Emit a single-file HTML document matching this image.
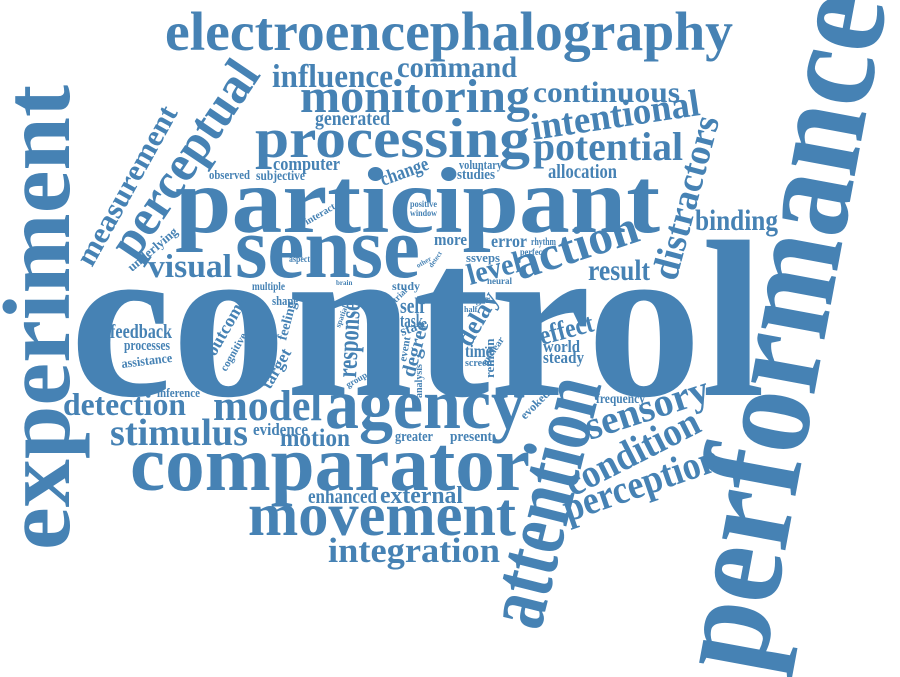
<!DOCTYPE html>
<html><head><meta charset="utf-8"><style>
html,body{margin:0;padding:0;background:#fff;}
svg{display:block;}
text{font-family:"Liberation Serif",serif;font-weight:bold;fill:#4682b4;}
</style></head><body>
<svg id="cloud" width="900" height="677" viewBox="0 0 900 677" xmlns="http://www.w3.org/2000/svg"></svg>
<script>
// word, x, y (baseline start), font size, rotation deg, textLength (0 = natural)
const words = [
["control",70,395,224,0,695],
["performance",762,676,140,-79.5,685],
["experiment",69,550,95,-90,465],
["participant",175,232,93,0,485],
["sense",235,277,88,0,185],
["attention",540,632,87,-76,255],
["comparator",130,490,78,0,400],
["agency",325,428,72,0,200],
["movement",248,535,61,0,268],
["electroencephalography",165,50,55,0,568],
["processing",255,157,56,0,275],
["monitoring",300,112,48,0,230],
["perceptual",135,262,52,-56,226],
["measurement",92,268,30,-61,178],
["distractors",676,282,38,-75,168],
["action",520,280,48,-18,128],
["sensory",590,440,40,-18,128],
["condition",573,497,40,-27,146],
["perception",568,522,40,-19,163],
["integration",328,562,35,0,172],
["potential",533,160,40,0,150],
["intentional",533,140,38,-8.5,170],
["continuous",533,102,30,0,147],
["influence",272,87,33,0,121],
["command",397,77,30,0,120],
["binding",695,230,30,0,83],
["result",588,280,30,0,62],
["visual",148,277,33,0,84],
["detection",63,415,32,0,123],
["model",213,420,43,0,109],
["stimulus",110,445,38,0,138],
["motion",280,446,25,0,70],
["external",380,503,24,0,83],
["enhanced",308,503,20,0,69],
["level",470,285,30,-15,55],
["delay",470,348,26,-60,58],
["effect",542,345,27,-15,55],
["generated",315,125,20,0,75],
["computer",273,170,19,0,67],
["allocation",548,178,20,0,69],
["change",383,186,20,-20,50],
["feedback",110,338,20,0,62],
["processes",124,350,15,0,46],
["assistance",122,368,13,-7,51],
["outcome",215,357,18,-60,0],
["cognitive",226,372,11,-60,0],
["feeling",286,341,14,-75,0],
["response",356,378,28,-87,76],
["target",270,390,17,-60,0],
["degree",414,378,20,-75,0],
["event",406,362,11,-80,0],
["state",402,336,14,-20,0],
["analysis",422,398,10,-90,0],
["self",400,313,22,0,25],
["task",400,327,19,0,23],
["study",392,290,12,0,0],
["multiple",252,290,12,0,33],
["shape",272,305,13,0,26],
["observed",209,179,13,0,41],
["subjective",256,180,14,0,49],
["voluntary",459,169,13,0,43],
["studies",457,179,15,0,38],
["positive",410,207,9.5,0,27],
["window",410,216,9.5,0,27],
["interact",307,225,10,-30,0],
["underlying",132,272,13,-40,0],
["aspect",289,262,9,0,21],
["more",434,245,17,0,33],
["error",491,247,18,0,36],
["rhythm",531,245,10,0,25],
["ssveps",466,262,13,0,34],
["perfect",520,255,9,0,25],
["neural",487,284,9,0,0],
["finger",464,303,12,0,26],
["half",464,312,8,0,0],
["unclear",486,366,10,-55,0],
["time",465,357,18,0,27],
["screen",465,366,10,0,0],
["remain",494,378,13,-90,0],
["world",543,352,17,0,37],
["steady",543,363,17,0,41],
["inference",157,397,13,0,43],
["evidence",253,435,17,0,55],
["greater",395,441,15,0,38],
["present",450,441,15,0,42],
["evoked",525,420,12,-45,0],
["frequency",596,403,14,0,49],
["spatial",340,328,8,-70,0],
["group",348,388,9,-30,0],
["brain",336,285,7,0,0],
["trial",396,303,9,-45,0],
["other",418,268,7,-30,0],
["detect",432,268,7,-55,0]
];
const svg = document.getElementById('cloud');
const NS = 'http://www.w3.org/2000/svg';
for (const w of words) {
  const t = document.createElementNS(NS, 'text');
  t.setAttribute('x', w[1]);
  t.setAttribute('y', w[2]);
  t.setAttribute('font-size', w[3]);
  if (w[4]) t.setAttribute('transform', 'rotate(' + w[4] + ' ' + w[1] + ' ' + w[2] + ')');
  if (w[5]) { t.setAttribute('textLength', w[5]); t.setAttribute('lengthAdjust', 'spacingAndGlyphs'); }
  t.textContent = w[0];
  
  
  svg.appendChild(t);
}
</script>
</body></html>
